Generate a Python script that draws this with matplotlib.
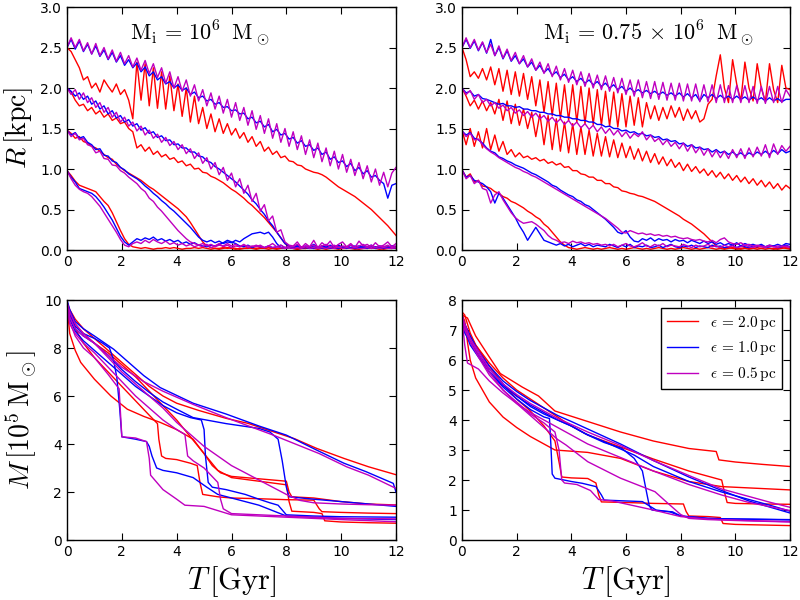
import numpy as np
import matplotlib
matplotlib.use('Agg')
import matplotlib.pyplot as plt
from matplotlib.lines import Line2D

plt.rcParams['mathtext.fontset'] = 'cm'
plt.rcParams['font.family'] = 'DejaVu Sans'

RED, BLUE, PURPLE = '#ff0000', '#0000ff', '#bf00bf'

# ---------------- radius data, sampled every 0.15 Gyr from 0 to 12 ----------------
# M_i = 1e6 (top left)
tl_p25 = [2.50,2.62,2.50,2.60,2.46,2.56,2.42,2.55,2.40,2.50,
          2.36,2.47,2.33,2.44,2.30,2.40,2.26,2.37,2.22,2.34,
          2.18,2.30,2.13,2.25,2.06,2.20,2.00,2.14,1.96,2.10,
          1.90,2.04,1.84,1.98,1.78,1.94,1.74,1.90,1.69,1.86,
          1.64,1.82,1.60,1.76,1.54,1.72,1.49,1.66,1.44,1.62,
          1.38,1.56,1.33,1.50,1.28,1.46,1.24,1.41,1.18,1.36,
          1.14,1.32,1.09,1.26,1.04,1.22,1.00,1.18,0.96,1.12,
          0.92,1.08,0.88,1.04,0.84,1.00,0.80,0.96,0.78,0.95,
          1.02]
tl_b25 = [2.50,2.60,2.48,2.58,2.45,2.54,2.42,2.52,2.39,2.47,
          2.35,2.44,2.32,2.40,2.28,2.35,2.25,2.31,2.20,2.26,
          2.15,2.20,2.10,2.14,2.05,2.08,2.00,2.04,1.97,2.00,
          1.92,1.95,1.88,1.90,1.84,1.86,1.80,1.82,1.76,1.77,
          1.72,1.73,1.68,1.69,1.62,1.64,1.57,1.59,1.52,1.55,
          1.46,1.49,1.42,1.44,1.37,1.39,1.32,1.35,1.28,1.30,
          1.23,1.26,1.18,1.21,1.12,1.15,1.08,1.10,1.03,1.07,
          0.98,1.02,0.94,0.98,0.90,0.92,0.86,0.82,0.64,0.80,
          0.82]
tl_r25 = [2.50,2.45,2.35,2.25,2.10,2.14,2.00,2.06,1.95,2.10,
          2.02,1.95,2.05,1.92,1.98,1.85,1.62,2.32,1.85,2.30,
          1.78,2.25,1.75,2.20,1.74,2.15,1.72,2.05,1.65,2.00,
          1.58,1.90,1.56,1.76,1.50,1.68,1.46,1.62,1.44,1.56,
          1.42,1.50,1.38,1.45,1.33,1.40,1.28,1.34,1.22,1.27,
          1.18,1.22,1.14,1.16,1.10,1.09,1.05,1.04,1.00,0.98,
          0.96,0.95,0.93,0.90,0.86,0.82,0.78,0.75,0.72,0.69,
          0.66,0.62,0.58,0.54,0.50,0.45,0.40,0.35,0.30,0.24,
          0.18]
tl_r20 = [2.00,1.95,1.85,1.78,1.80,1.72,1.76,1.68,1.72,1.64,
          1.68,1.60,1.63,1.56,1.58,1.50,1.46,1.26,1.30,1.22,
          1.27,1.18,1.22,1.15,1.18,1.12,1.14,1.08,1.10,1.04,
          1.06,1.00,1.01,0.96,0.95,0.91,0.89,0.86,0.83,0.79,
          0.75,0.72,0.68,0.64,0.59,0.55,0.50,0.45,0.40,0.34,
          0.28,0.22,0.15,0.08,0.04,
          0.03,0.02,0.04,0.02,0.03,0.02,0.03,0.05,0.02,0.03,
          0.02,0.04,0.02,0.03,0.02,0.03,0.02,0.04,0.02,0.03,
          0.02,0.03,0.02,0.04,0.02,0.03]
tl_b20 = [2.00,1.96,1.90,1.94,1.86,1.90,1.80,1.84,1.74,1.78,
          1.68,1.72,1.63,1.66,1.58,1.61,1.53,1.56,1.48,1.51,
          1.44,1.46,1.39,1.41,1.35,1.36,1.30,1.31,1.26,1.26,
          1.21,1.21,1.16,1.15,1.10,1.08,1.03,1.00,0.96,0.92,
          0.88,0.84,0.79,0.74,0.69,0.62,0.57,0.50,0.44,0.36,
          0.30,0.22,0.15,0.08,0.05,
          0.04,0.06,0.03,0.05,0.04,0.07,0.03,0.05,0.04,0.06,
          0.03,0.05,0.04,0.03,0.06,0.04,0.05,0.03,0.04,0.06,
          0.03,0.05,0.04,0.03,0.05,0.04]
tl_p20 = [2.00,1.92,1.98,1.86,1.94,1.82,1.88,1.76,1.82,1.70,
          1.76,1.64,1.70,1.58,1.64,1.53,1.58,1.47,1.53,1.42,
          1.48,1.38,1.43,1.33,1.39,1.29,1.34,1.24,1.30,1.19,
          1.25,1.13,1.20,1.07,1.14,1.00,1.08,0.93,1.02,0.86,
          0.95,0.78,0.88,0.70,0.80,0.60,0.70,0.48,0.56,0.36,
          0.42,0.22,0.25,0.10,0.06,
          0.05,0.10,0.03,0.08,0.04,0.12,0.03,0.09,0.05,0.11,
          0.03,0.07,0.10,0.04,0.08,0.03,0.11,0.05,0.07,0.03,
          0.09,0.04,0.06,0.10,0.04,0.08]
tl_b15 = [1.48,1.42,1.45,1.38,1.40,1.33,1.30,1.24,1.25,1.17,
          1.16,1.10,1.08,1.02,0.99,0.94,0.91,0.88,0.84,0.79,
          0.75,0.70,0.66,0.61,0.57,0.52,0.48,0.43,0.38,0.33,
          0.28,0.22,0.16,0.12,0.10,0.12,0.09,0.11,0.08,0.10,
          0.09,0.12,0.10,0.14,0.17,0.20,0.21,0.22,0.20,0.22,
          0.16,0.08,0.03,0.02,
          0.03,0.02,0.04,0.02,0.03,0.02,0.02,0.04,0.02,0.03,
          0.02,0.03,0.02,0.04,0.02,0.03,0.02,0.02,0.03,0.02,
          0.04,0.02,0.03,0.02,0.03,0.02,0.03]
tl_p15 = [1.48,1.40,1.44,1.36,1.38,1.30,1.28,1.20,1.22,1.13,
          1.12,1.05,1.04,0.98,0.95,0.90,0.86,0.82,0.76,0.72,
          0.64,0.60,0.53,0.48,0.42,0.36,0.30,0.24,0.19,0.14,
          0.10,0.08,0.06,0.08,0.05,0.07,0.04,0.06,0.05,0.08,
          0.05,0.07,0.04,0.06,0.05,0.04,0.06,0.04,0.03,0.05,
          0.03,0.04,0.03,0.02,
          0.03,0.02,0.03,0.02,0.04,0.02,0.03,0.02,0.03,0.02,
          0.03,0.02,0.04,0.02,0.03,0.02,0.03,0.02,0.02,0.03,
          0.02,0.03,0.02,0.03,0.02,0.02,0.03]
tl_r15 = [1.48,1.44,1.38,1.40,1.34,1.32,1.28,1.26,1.22,1.18,
          1.14,1.12,1.06,1.02,0.98,0.95,0.92,0.89,0.86,0.82,
          0.78,0.75,0.71,0.67,0.63,0.59,0.55,0.51,0.46,0.41,
          0.34,0.26,0.18,0.10,0.05,0.03,
          0.02,0.01,0.02,0.03,0.02,0.01,0.02,0.02,0.03,0.02,
          0.01,0.02,0.02,0.03,0.02,0.01,0.02,0.02,0.03,0.02,
          0.01,0.02,0.02,0.03,0.02,0.01,0.02,0.02,0.03,0.02,
          0.01,0.02,0.02,0.03,0.02,0.01,0.02,0.02,0.03,0.02,
          0.01,0.02,0.02,0.03,0.02]
tl_b10 = [0.98,0.90,0.84,0.76,0.74,0.72,0.70,0.66,0.60,0.53,
          0.45,0.37,0.27,0.17,0.10,0.06,0.10,0.14,0.12,0.15,
          0.13,0.16,0.12,0.14,0.11,0.13,0.10,0.12,0.08,0.10,
          0.07,0.09,0.06,0.05,
          0.04,0.06,0.05,0.07,0.09,0.12,0.10,0.08,0.05,0.04,
          0.06,0.03,0.05,0.04,0.03,0.05,0.03,0.04,0.06,0.03,
          0.04,0.03,0.05,0.03,0.04,0.03,0.05,0.04,0.03,0.05,
          0.03,0.04,0.06,0.03,0.04,0.03,0.05,0.03,0.04,0.03,
          0.05,0.04,0.03,0.04,0.03,0.05,0.04]
tl_p10 = [0.98,0.88,0.80,0.75,0.72,0.70,0.66,0.60,0.54,0.46,
          0.38,0.30,0.22,0.13,0.06,0.04,0.08,0.10,0.08,0.12,
          0.09,0.13,0.10,0.08,0.11,0.07,0.09,0.06,0.08,0.05,
          0.07,0.04,0.06,
          0.04,0.07,0.03,0.05,0.08,0.04,0.06,0.03,0.05,0.04,
          0.07,0.03,0.05,0.04,0.06,0.03,0.05,0.08,0.04,0.06,
          0.03,0.05,0.04,0.07,0.03,0.05,0.04,0.06,0.03,0.05,
          0.07,0.04,0.06,0.03,0.05,0.04,0.06,0.03,0.05,0.07,
          0.04,0.06,0.03,0.05,0.04,0.06,0.03,0.05]
tl_r10 = [0.98,0.92,0.85,0.80,0.78,0.76,0.74,0.72,0.66,0.60,
          0.55,0.46,0.35,0.24,0.14,0.07,0.04,0.03,
          0.02,0.03,0.02,0.01,0.02,0.02,0.03,0.02,0.03,0.02,
          0.01,0.02,0.02,0.03,0.02,0.03,0.02,0.01,0.02,0.02,
          0.03,0.02,0.03,0.02,0.01,0.02,0.02,0.03,0.02,0.03,
          0.02,0.01,0.02,0.02,0.03,0.02,0.03,0.02,0.01,0.02,
          0.02,0.03,0.02,0.03,0.02,0.01,0.02,0.02,0.03,0.02,
          0.03,0.02,0.01,0.02,0.02,0.03,0.02,0.03,0.02,0.01,
          0.02,0.02,0.03]

# M_i = 0.75e6 (top right)
tr_p25 = [2.50,2.62,2.50,2.60,2.47,2.57,2.44,2.54,2.40,2.52,
          2.37,2.48,2.34,2.44,2.30,2.40,2.26,2.36,2.22,2.32,
          2.18,2.30,2.14,2.27,2.10,2.24,2.07,2.22,2.04,2.20,
          2.02,2.18,2.00,2.16,1.98,2.15,1.96,2.13,1.94,2.12,
          1.92,2.10,1.90,2.10,1.88,2.08,1.87,2.08,1.86,2.07,
          1.85,2.06,1.85,2.06,1.84,2.05,1.84,2.05,1.83,2.04,
          1.83,2.04,1.82,2.04,1.82,2.03,1.82,2.03,1.82,2.03,
          1.82,2.02,1.81,2.02,1.81,2.02,1.82,2.02,1.82,1.98,
          1.90]
tr_b25 = [2.50,2.60,2.49,2.58,2.46,2.56,2.43,2.60,2.40,2.50,
          2.36,2.46,2.33,2.40,2.30,2.36,2.26,2.32,2.22,2.28,
          2.19,2.24,2.16,2.20,2.13,2.17,2.10,2.14,2.08,2.12,
          2.06,2.10,2.04,2.08,2.02,2.06,2.00,2.04,1.98,2.02,
          1.96,2.00,1.95,1.98,1.94,1.97,1.93,1.96,1.92,1.95,
          1.91,1.94,1.90,1.94,1.89,1.93,1.88,1.92,1.84,1.92,
          1.88,1.92,1.87,1.91,1.87,1.90,1.86,1.90,1.86,1.89,
          1.85,1.89,1.85,1.88,1.84,1.88,1.84,1.87,1.83,1.86,
          1.86]
tr_r25 = [2.50,2.35,2.14,2.20,2.12,2.24,2.10,2.26,2.04,2.24,
          1.96,2.22,1.92,2.20,1.90,2.18,1.86,2.14,1.78,2.10,
          1.70,2.08,1.66,2.06,1.62,2.04,1.60,2.04,1.58,2.02,
          1.56,2.00,1.55,1.98,1.54,1.96,1.53,1.95,1.52,1.93,
          1.52,1.90,1.54,1.88,1.52,1.82,1.62,1.78,1.60,1.76,
          1.62,1.78,1.64,1.76,1.60,1.74,1.62,1.72,1.58,1.62,
          1.80,1.86,2.15,2.41,2.00,1.82,2.35,2.05,1.84,2.32,
          2.00,1.84,2.30,2.00,1.83,2.30,1.98,1.82,2.28,2.00,
          1.98]
tr_r20 = [2.00,1.90,1.78,1.85,1.74,1.84,1.72,1.82,1.68,1.86,
          1.60,1.84,1.56,1.80,1.54,1.74,1.50,1.70,1.40,1.68,
          1.30,1.66,1.24,1.62,1.22,1.58,1.20,1.56,1.18,1.52,
          1.18,1.48,1.16,1.44,1.16,1.40,1.15,1.36,1.14,1.32,
          1.14,1.28,1.12,1.25,1.10,1.22,1.08,1.19,1.06,1.15,
          1.04,1.12,1.02,1.08,0.98,1.06,0.97,1.03,0.95,1.00,
          0.92,0.98,0.90,0.96,0.88,0.94,0.86,0.92,0.84,0.90,
          0.82,0.88,0.80,0.86,0.78,0.84,0.76,0.82,0.74,0.80,
          0.76]
tr_b20 = [2.00,1.94,1.96,1.90,1.92,1.87,1.86,1.84,1.82,1.80,
          1.81,1.78,1.78,1.76,1.77,1.74,1.74,1.72,1.72,1.70,
          1.70,1.68,1.68,1.66,1.66,1.64,1.64,1.62,1.62,1.60,
          1.60,1.58,1.58,1.55,1.55,1.52,1.53,1.50,1.50,1.47,
          1.48,1.45,1.46,1.43,1.44,1.41,1.42,1.39,1.40,1.36,
          1.37,1.34,1.35,1.31,1.32,1.28,1.30,1.26,1.27,1.24,
          1.25,1.21,1.24,1.20,1.22,1.18,1.21,1.17,1.20,1.16,
          1.20,1.17,1.21,1.18,1.22,1.18,1.23,1.19,1.24,1.20,
          1.22]
tr_p20 = [2.00,1.92,1.97,1.86,1.92,1.82,1.86,1.78,1.82,1.75,
          1.79,1.72,1.76,1.69,1.73,1.66,1.71,1.64,1.69,1.62,
          1.66,1.59,1.64,1.57,1.62,1.55,1.60,1.53,1.58,1.51,
          1.56,1.49,1.54,1.46,1.52,1.44,1.50,1.42,1.48,1.40,
          1.46,1.38,1.44,1.40,1.46,1.36,1.42,1.34,1.38,1.30,
          1.36,1.28,1.33,1.25,1.32,1.22,1.30,1.20,1.27,1.17,
          1.25,1.15,1.23,1.14,1.22,1.13,1.24,1.14,1.25,1.13,
          1.26,1.15,1.27,1.16,1.30,1.14,1.31,1.18,1.29,1.22,
          1.28]
tr_r15 = [1.48,1.30,1.50,1.28,1.46,1.26,1.50,1.24,1.42,1.22,
          1.34,1.18,1.24,1.15,1.20,1.14,1.16,1.12,1.14,1.10,
          1.12,1.07,1.09,1.05,1.07,1.02,1.03,0.98,0.98,0.94,
          0.93,0.90,0.90,0.86,0.86,0.82,0.82,0.78,0.77,0.73,
          0.72,0.70,0.69,0.67,0.66,0.64,0.62,0.60,0.57,0.54,
          0.51,0.48,0.45,0.42,0.38,0.35,0.32,0.28,0.24,0.20,
          0.15,0.10,0.05,0.03,
          0.02,0.03,0.02,0.01,0.02,0.03,0.02,0.02,0.01,0.02,
          0.03,0.02,0.02,0.01,0.02,0.03,0.02]
tr_b15 = [1.47,1.42,1.45,1.38,1.36,1.32,1.26,1.22,1.20,1.15,
          1.13,1.10,1.08,1.05,1.03,1.01,0.98,0.95,0.93,0.90,
          0.87,0.84,0.80,0.78,0.74,0.71,0.68,0.66,0.62,0.60,
          0.56,0.54,0.50,0.46,0.42,0.38,0.33,0.28,0.22,0.20,
          0.24,0.16,0.11,0.10,0.14,0.12,0.15,0.11,0.14,0.12,
          0.13,0.10,0.13,0.11,0.12,0.09,0.12,0.10,0.08,0.11,
          0.08,0.10,0.07,0.09,0.06,0.08,0.06,0.09,0.05,0.08,
          0.06,0.07,0.05,0.07,0.04,0.06,0.05,0.07,0.05,0.08,
          0.07]
tr_p15 = [1.47,1.40,1.44,1.36,1.37,1.30,1.25,1.21,1.18,1.14,
          1.11,1.08,1.05,1.02,1.00,0.97,0.95,0.92,0.90,0.87,
          0.84,0.81,0.78,0.75,0.72,0.69,0.66,0.63,0.60,0.57,
          0.54,0.51,0.48,0.45,0.42,0.39,0.35,0.31,0.27,0.22,
          0.21,0.24,0.22,0.20,0.21,0.19,0.20,0.18,0.19,0.17,
          0.18,0.16,0.17,0.15,0.14,0.15,0.13,0.12,0.13,0.11,
          0.10,0.12,0.09,0.13,0.15,0.10,0.08,0.07,0.09,0.06,
          0.07,0.05,0.06,0.05,0.04,0.06,0.04,0.05,0.04,0.05,
          0.04]
tr_r10 = [0.99,0.90,0.94,0.84,0.86,0.79,0.78,0.76,0.72,0.70,
          0.66,0.64,0.60,0.58,0.55,0.52,0.48,0.45,0.41,0.38,
          0.32,0.28,0.22,0.16,0.10,0.06,0.03,
          0.02,0.01,0.02,0.03,0.02,0.01,0.02,0.01,0.02,0.03,
          0.02,0.01,0.02,0.01,0.02,0.03,0.02,0.01,0.02,0.01,
          0.02,0.03,0.02,0.01,0.02,0.01,0.02,0.03,0.02,0.01,
          0.02,0.01,0.02,0.03,0.02,0.01,0.02,0.01,0.02,0.03,
          0.02,0.01,0.02,0.01,0.02,0.03,0.02,0.01,0.02,0.01,
          0.02,0.03,0.02,0.01]
tr_b10 = [0.99,0.90,0.92,0.86,0.84,0.82,0.78,0.72,0.58,0.70,
          0.64,0.56,0.48,0.40,0.30,0.22,0.12,0.20,0.28,0.20,
          0.12,0.10,0.08,0.06,0.08,0.05,0.07,0.04,0.06,0.08,
          0.05,0.07,0.04,0.06,0.05,0.04,0.07,
          0.05,0.03,0.06,0.04,0.07,0.03,0.05,0.04,0.06,0.03,
          0.04,0.06,0.03,0.05,0.07,0.04,0.03,0.05,0.04,0.06,
          0.03,0.05,0.04,0.03,0.06,0.04,0.05,0.03,0.04,0.06,
          0.03,0.05,0.04,0.03,0.05,0.04,0.06,0.03,0.04,0.05,
          0.03,0.04,0.06,0.04]
tr_p10 = [0.99,0.88,0.92,0.82,0.86,0.76,0.74,0.58,0.68,0.72,
          0.62,0.54,0.46,0.40,0.36,0.33,0.34,0.35,0.32,0.28,
          0.24,0.18,0.14,0.12,0.09,0.10,0.08,0.11,0.09,0.10,
          0.08,0.09,0.07,0.08,0.06,0.07,
          0.05,0.07,0.04,0.06,0.08,0.05,0.04,0.06,0.09,0.05,
          0.04,0.07,0.05,0.08,0.04,0.06,0.05,0.04,0.07,0.05,
          0.03,0.06,0.04,0.05,0.07,0.04,0.05,0.03,0.06,0.04,
          0.05,0.03,0.04,0.06,0.04,0.03,0.05,0.04,0.03,0.05,
          0.04,0.03,0.05,0.04,0.03]

# ---------------- mass data (time, mass) read at irregular points ----------------
# M_i = 1e6 (bottom left)
bl_ra_t = [0, 0.1, 0.3, 0.6, 1.0, 1.5, 2.0, 2.5, 3.0, 3.5, 4.0, 4.8, 5.8, 6.6, 7.5, 8.3, 9.1, 10.1, 11.0, 12.0]
bl_ra_m = [9.9, 9.6, 9.2, 8.8, 8.4, 7.9, 7.4, 6.9, 6.4, 6.0, 5.7, 5.4, 5.07, 4.86, 4.52, 4.22, 3.82, 3.4, 3.05, 2.72]
bl_rb_t = [0, 0.1, 0.3, 0.6, 1, 1.5, 2, 2.5, 3, 3.5, 4, 4.5, 5, 5.3, 5.6, 6, 7, 8, 8.1, 8.2, 9, 10, 11, 12]
bl_rb_m = [9.9, 9.5, 9.0, 8.6, 8.2, 7.8, 7.3, 6.8, 6.2, 5.6, 5.0, 4.3, 3.6, 3.1, 2.8, 2.65, 2.55, 2.45, 2.0, 1.8, 1.75, 1.6, 1.5, 1.46]
bl_rc_t = [0, 0.1, 0.3, 0.6, 1, 1.5, 2, 2.5, 3, 3.3, 3.35, 3.45, 3.6, 4.0, 4.5, 4.75, 4.85, 4.95, 5.5, 6, 7, 8, 9, 9.2, 9.3, 10, 11, 12]
bl_rc_m = [9.8, 9.4, 8.8, 8.2, 7.6, 7.0, 6.4, 5.8, 5.2, 4.85, 4.2, 3.5, 3.4, 3.35, 3.2, 3.1, 2.4, 1.9, 1.8, 1.75, 1.72, 1.68, 1.66, 1.3, 1.18, 1.15, 1.12, 1.1]
bl_rd_t = [0, 0.05, 0.1, 0.3, 0.5, 1, 1.6, 2.2, 2.8, 3.4, 4.0, 4.6, 5.0, 5.5, 6.0, 7.0, 8.0, 8.1, 8.2, 9, 9.3, 9.4, 10, 11, 12]
bl_rd_m = [9.8, 9.2, 8.6, 7.9, 7.4, 6.7, 6.0, 5.45, 5.15, 4.9, 4.6, 4.2, 3.6, 2.9, 2.6, 2.45, 2.3, 1.6, 1.2, 1.15, 1.1, 0.8, 0.75, 0.72, 0.7]

bl_ba_t = [0, 0.1, 0.3, 0.6, 1, 1.7, 2.5, 2.8, 3.4, 4.6, 5.8, 7.0, 8.0, 9.1, 10.1, 10.9, 11.9, 12]
bl_ba_m = [10, 9.6, 9.1, 8.8, 8.5, 7.95, 7.15, 6.85, 6.35, 5.7, 5.25, 4.75, 4.37, 3.75, 3.2, 2.85, 2.36, 2.0]
bl_bb_t = [0, 0.1, 0.3, 0.6, 1, 1.5, 2, 2.5, 3, 3.5, 4, 4.6, 5.8, 7.0, 7.4, 7.7, 7.85, 8.0, 8.1, 9, 10, 11, 12]
bl_bb_m = [9.9, 9.4, 8.8, 8.5, 8.2, 7.7, 7.1, 6.6, 6.15, 5.75, 5.45, 5.1, 4.85, 4.65, 4.5, 4.2, 3.3, 2.2, 1.8, 1.7, 1.6, 1.5, 1.4]
bl_bc_t = [0, 0.1, 0.3, 0.6, 1, 1.3, 1.55, 1.7, 1.82, 1.92, 2.0, 2.5, 2.9, 3.0, 3.1, 3.27, 3.5, 4.0, 4.6, 5.1, 5.5, 6, 7, 8, 9, 10, 12]
bl_bc_m = [9.9, 9.4, 8.9, 8.6, 8.4, 8.2, 8.0, 7.5, 6.75, 5.5, 4.3, 4.2, 4.1, 3.9, 3.5, 3.0, 2.9, 2.8, 2.6, 2.2, 1.9, 1.75, 1.45, 1.0, 0.95, 0.9, 0.85]
bl_bd_t = [0, 0.1, 0.3, 0.6, 1, 1.5, 2, 2.5, 3, 3.5, 4, 4.5, 4.9, 5.0, 5.05, 5.15, 5.3, 5.8, 6.5, 7.0, 7.4, 7.7, 8.0, 9, 10, 12]
bl_bd_m = [9.8, 9.2, 8.7, 8.3, 7.9, 7.4, 6.9, 6.4, 6.0, 5.6, 5.3, 5.1, 5.0, 4.6, 3.5, 2.4, 2.2, 2.1, 1.9, 1.7, 1.55, 1.45, 1.05, 1.0, 0.97, 0.95]

bl_pa_t = [0, 0.1, 0.3, 0.6, 1, 1.5, 2, 2.8, 3.5, 4.6, 5.8, 7.5, 9.2, 10.2, 11, 12]
bl_pa_m = [9.9, 9.3, 8.8, 8.5, 8.2, 7.7, 7.2, 6.6, 6.2, 5.65, 5.1, 4.38, 3.6, 3.05, 2.7, 2.15]
bl_pb_t = [0, 0.1, 0.3, 0.6, 1, 1.5, 2, 2.5, 3, 3.5, 4, 4.5, 5, 5.5, 6, 6.5, 7, 7.5, 8, 8.5, 9, 10, 11, 12]
bl_pb_m = [9.9, 9.5, 9.0, 8.6, 8.2, 7.6, 7.0, 6.5, 6.0, 5.5, 4.9, 4.4, 3.9, 3.5, 3.1, 2.8, 2.5, 2.2, 1.9, 1.65, 1.55, 1.5, 1.47, 1.45]
bl_pc_t = [0, 0.1, 0.3, 0.6, 1, 1.5, 2, 2.5, 3, 3.5, 4, 4.3, 4.4, 4.6, 5, 5.5, 5.6, 5.7, 6, 7, 8, 10, 12]
bl_pc_m = [9.8, 9.0, 8.6, 8.2, 7.8, 7.2, 6.6, 6.0, 5.5, 5.0, 4.6, 4.4, 3.5, 3.3, 3.0, 2.4, 1.7, 1.3, 1.1, 1.05, 1.0, 0.9, 0.88]
bl_pd_t = [0, 0.1, 0.3, 0.6, 1, 1.5, 1.9, 1.95, 2.0, 2.5, 2.9, 3.0, 3.05, 3.5, 4.0, 4.3, 5, 6, 7, 8, 10, 12]
bl_pd_m = [9.9, 9.1, 8.5, 8.0, 7.6, 6.9, 6.3, 5.3, 4.3, 4.25, 4.1, 3.4, 2.7, 2.1, 1.7, 1.45, 1.4, 1.05, 1.0, 0.95, 0.85, 0.76]

# M_i = 0.75e6 (bottom right)
br_ra_t = [0, 0.2, 0.5, 1, 1.4, 2.2, 2.8, 3.4, 4.6, 5.8, 7.0, 8.3, 9.3, 9.4, 10, 11, 12]
br_ra_m = [7.5, 7.4, 6.8, 6.1, 5.55, 5.1, 4.8, 4.3, 3.95, 3.6, 3.3, 3.05, 2.95, 2.67, 2.6, 2.52, 2.45]
br_rb_t = [0, 0.1, 0.2, 0.3, 0.5, 1, 1.5, 2, 2.5, 3, 3.4, 4.6, 5.8, 7.0, 8.3, 9.5, 12]
br_rb_m = [7.5, 7.3, 6.6, 6.0, 5.4, 4.6, 4.1, 3.75, 3.45, 3.2, 3.0, 2.92, 2.72, 2.3, 1.95, 1.78, 1.67]
br_rc_t = [0, 0.1, 0.3, 0.5, 1, 1.5, 2, 2.5, 3, 3.5, 4, 4.6, 5.8, 7.0, 8.3, 9.5, 9.6, 9.7, 10, 11, 12]
br_rc_m = [7.5, 7.2, 6.8, 6.5, 5.9, 5.4, 5.0, 4.7, 4.4, 4.1, 3.8, 3.5, 3.1, 2.7, 2.3, 2.0, 1.6, 1.25, 1.22, 1.2, 1.19]
br_rd_t = [0, 0.1, 0.3, 0.5, 1, 1.5, 2, 2.5, 3, 3.4, 3.55, 3.65, 4.0, 4.6, 4.9, 5.0, 5.1, 6, 7, 8.1, 8.2, 8.3, 9, 9.45, 9.55, 10, 11, 12]
br_rd_m = [7.6, 7.5, 6.9, 6.5, 5.8, 5.2, 4.7, 4.3, 3.8, 3.3, 2.6, 2.1, 2.07, 2.05, 1.9, 1.5, 1.27, 1.25, 1.22, 1.2, 0.95, 0.8, 0.78, 0.75, 0.55, 0.52, 0.5, 0.48]

br_ba_t = [0, 0.1, 0.3, 0.5, 1, 1.5, 2, 2.5, 3, 3.5, 4, 4.5, 5.2, 6.3, 7.0, 8.3, 9.5, 10.5, 11.3, 12]
br_ba_m = [7.5, 7.0, 6.6, 6.3, 5.7, 5.2, 4.8, 4.45, 4.2, 4.0, 3.8, 3.55, 3.28, 2.83, 2.45, 1.95, 1.6, 1.35, 1.15, 0.96]
br_bb_t = [0, 0.1, 0.3, 0.6, 1, 1.5, 2, 2.5, 3, 3.5, 4, 4.6, 5.8, 7, 8.3, 9.5, 10.5, 12]
br_bb_m = [7.4, 7.2, 6.8, 6.3, 5.8, 5.3, 4.95, 4.65, 4.4, 4.15, 3.95, 3.7, 3.2, 2.65, 2.1, 1.65, 1.3, 0.9]
br_bc_t = [0, 0.1, 0.3, 0.6, 1, 1.5, 2, 2.5, 3.0, 3.2, 3.25, 3.3, 3.4, 4.0, 4.4, 4.9, 5.1, 5.2, 6.6, 7.1, 7.6, 8.0, 9, 10, 12]
br_bc_m = [7.5, 7.0, 6.5, 6.1, 5.6, 5.1, 4.7, 4.35, 4.1, 4.05, 3.2, 2.2, 2.06, 1.95, 1.89, 1.78, 1.5, 1.33, 1.28, 1.0, 0.94, 0.8, 0.72, 0.7, 0.67]
br_bd_t = [0, 0.1, 0.3, 0.6, 1, 1.5, 2, 2.5, 3, 3.5, 4, 4.6, 5.2, 5.84, 6.3, 6.6, 6.75, 6.85, 6.95, 7.2, 7.7, 8.0, 9, 10, 12]
br_bd_m = [7.5, 6.9, 6.6, 6.2, 5.6, 5.15, 4.8, 4.5, 4.25, 4.0, 3.8, 3.5, 3.25, 3.06, 2.72, 2.3, 1.6, 1.15, 1.0, 0.97, 0.94, 0.8, 0.72, 0.7, 0.68]

br_pa_t = [0, 0.1, 0.3, 0.6, 1, 1.5, 2, 2.5, 3, 3.5, 4, 4.6, 5.8, 7, 8.3, 9.5, 10.5, 11.3, 12]
br_pa_m = [7.5, 7.1, 6.7, 6.3, 5.7, 5.2, 4.85, 4.55, 4.3, 4.05, 3.85, 3.6, 3.15, 2.65, 2.15, 1.7, 1.45, 1.25, 1.09]
br_pb_t = [0, 0.1, 0.2, 0.6, 1, 1.5, 2, 2.5, 3, 3.5, 4, 4.6, 5.8, 7, 8.3, 9.5, 10.5, 12]
br_pb_m = [7.4, 6.5, 5.9, 5.7, 5.3, 4.9, 4.55, 4.25, 4.0, 3.75, 3.5, 3.2, 2.75, 2.3, 1.85, 1.5, 1.25, 0.98]
br_pc_t = [0, 0.1, 0.3, 0.6, 1, 1.5, 2, 2.5, 3, 3.4, 3.55, 3.65, 3.75, 4.2, 4.7, 5.0, 5.5, 6, 7, 8, 9, 10, 12]
br_pc_m = [7.5, 7.0, 6.6, 6.1, 5.5, 5.0, 4.6, 4.2, 3.9, 3.6, 3.0, 2.0, 1.9, 1.85, 1.65, 1.35, 1.3, 1.2, 1.0, 0.78, 0.7, 0.66, 0.61]
br_pd_t = [0, 0.1, 0.3, 0.6, 1, 1.5, 2, 2.5, 3, 3.5, 3.8, 4.6, 5.8, 7.06, 7.5, 8.0, 8.3, 9, 10, 12]
br_pd_m = [7.5, 7.2, 6.7, 6.2, 5.6, 5.0, 4.55, 4.15, 3.75, 3.35, 3.17, 2.61, 2.06, 1.61, 1.25, 0.85, 0.72, 0.68, 0.65, 0.6]

# ---------------- figure ----------------
fig = plt.figure(figsize=(8, 6), dpi=100)
ax_tl = fig.add_axes([0.08375, 0.5833, 0.41125, 0.405])
ax_tr = fig.add_axes([0.5775, 0.5833, 0.41, 0.405])
ax_bl = fig.add_axes([0.08375, 0.1, 0.41125, 0.4])
ax_br = fig.add_axes([0.5775, 0.1, 0.41, 0.4])


def draw_radius(ax, reds, blues, purples):
    for group, col in ((reds, RED), (blues, BLUE), (purples, PURPLE)):
        for vals in group:
            t = np.linspace(0, 12, len(vals))
            ax.plot(t, vals, color=col, lw=1.0)


def draw_mass(ax, reds, blues, purples):
    for group, col in ((reds, RED), (blues, BLUE), (purples, PURPLE)):
        for t, m in group:
            ax.plot(t, m, color=col, lw=1.0)


draw_radius(ax_tl, [tl_r25, tl_r20, tl_r15, tl_r10],
            [tl_b25, tl_b20, tl_b15, tl_b10],
            [tl_p25, tl_p20, tl_p15, tl_p10])
draw_radius(ax_tr, [tr_r25, tr_r20, tr_r15, tr_r10],
            [tr_b25, tr_b20, tr_b15, tr_b10],
            [tr_p25, tr_p20, tr_p15, tr_p10])
draw_mass(ax_bl,
          [(bl_ra_t, bl_ra_m), (bl_rb_t, bl_rb_m), (bl_rc_t, bl_rc_m), (bl_rd_t, bl_rd_m)],
          [(bl_ba_t, bl_ba_m), (bl_bb_t, bl_bb_m), (bl_bc_t, bl_bc_m), (bl_bd_t, bl_bd_m)],
          [(bl_pa_t, bl_pa_m), (bl_pb_t, bl_pb_m), (bl_pc_t, bl_pc_m), (bl_pd_t, bl_pd_m)])
draw_mass(ax_br,
          [(br_ra_t, br_ra_m), (br_rb_t, br_rb_m), (br_rc_t, br_rc_m), (br_rd_t, br_rd_m)],
          [(br_ba_t, br_ba_m), (br_bb_t, br_bb_m), (br_bc_t, br_bc_m), (br_bd_t, br_bd_m)],
          [(br_pa_t, br_pa_m), (br_pb_t, br_pb_m), (br_pc_t, br_pc_m), (br_pd_t, br_pd_m)])

for ax in (ax_tl, ax_tr, ax_bl, ax_br):
    ax.set_xlim(0, 12)
    ax.set_xticks(np.arange(0, 13, 2))
    ax.tick_params(direction='in', top=True, right=True, length=5, width=0.8, labelsize=10)
    for s in ax.spines.values():
        s.set_linewidth(1.0)

for ax in (ax_tl, ax_tr):
    ax.set_ylim(0, 3.0)
    ax.set_yticks(np.arange(0, 3.01, 0.5))
    ax.set_yticklabels(['0.0', '0.5', '1.0', '1.5', '2.0', '2.5', '3.0'])

ax_bl.set_ylim(0, 10)
ax_bl.set_yticks(np.arange(0, 11, 2))
ax_br.set_ylim(0, 8)
ax_br.set_yticks(np.arange(0, 9, 1))

ax_tl.set_ylabel(r'$R\,[\mathrm{kpc}]$', fontsize=20)
ax_bl.set_ylabel(r'$M\,[10^5\,\mathrm{M}_\odot]$', fontsize=20)
ax_bl.set_xlabel(r'$T\,[\mathrm{Gyr}]$', fontsize=22)
ax_br.set_xlabel(r'$T\,[\mathrm{Gyr}]$', fontsize=22)

ax_tl.text(0.404, 0.893, r'$\mathrm{M_i}\,=\,10^6\;\;\mathrm{M}_\odot$',
           transform=ax_tl.transAxes, ha='center', va='center', fontsize=16)
ax_tr.text(0.567, 0.893, r'$\mathrm{M_i}\,=\,0.75\,\times\,10^6\;\;\mathrm{M}_\odot$',
           transform=ax_tr.transAxes, ha='center', va='center', fontsize=16)

handles = [Line2D([], [], color=RED, lw=1.0),
           Line2D([], [], color=BLUE, lw=1.0),
           Line2D([], [], color=PURPLE, lw=1.0)]
labels = [r'$\epsilon\,=\,2.0\,\mathrm{pc}$',
          r'$\epsilon\,=\,1.0\,\mathrm{pc}$',
          r'$\epsilon\,=\,0.5\,\mathrm{pc}$']
leg = ax_br.legend(handles, labels, loc='upper right', fontsize=11, fancybox=False,
                   framealpha=1, edgecolor='black', borderaxespad=0.5)
leg.get_frame().set_linewidth(1.0)

fig.savefig('out.png', dpi=100)
